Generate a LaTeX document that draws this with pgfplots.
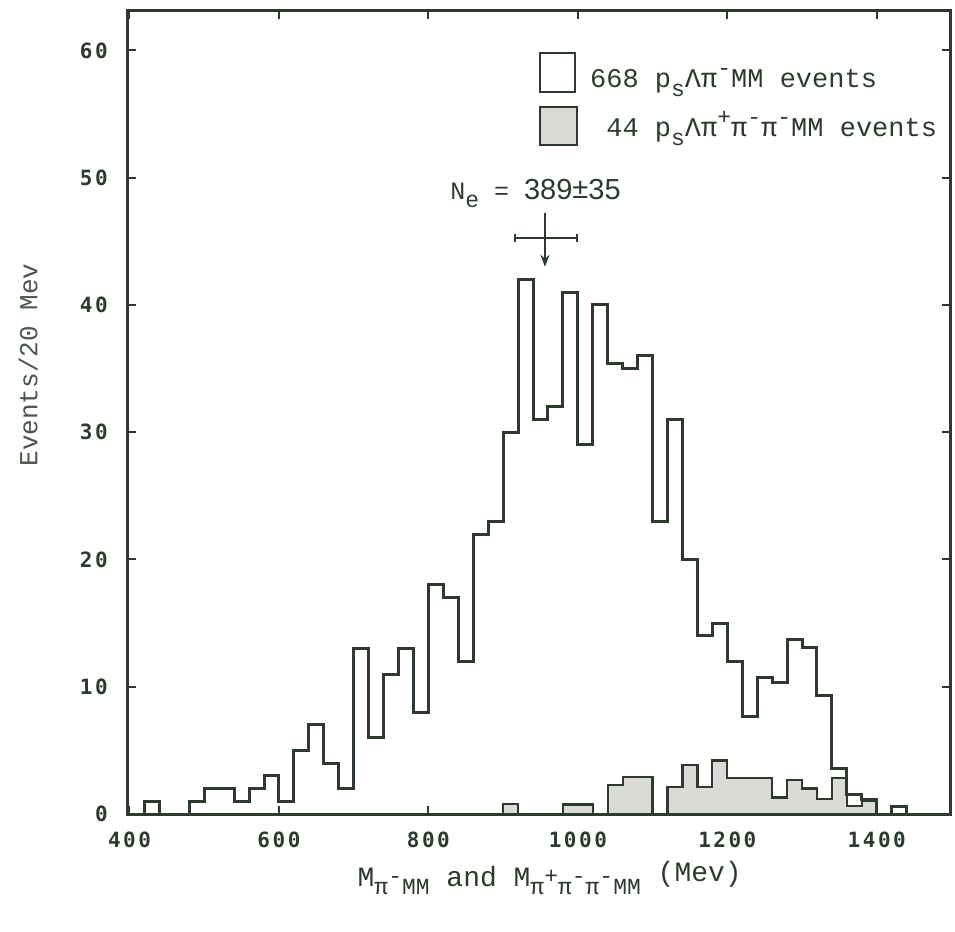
\documentclass[border=0pt]{standalone}
\usepackage{fontspec}
\setmainfont{Liberation Mono}
\newfontfamily\tickfont[LetterSpace=12]{DejaVu Sans Mono}
\newfontfamily\numfont{Liberation Sans}
\usepackage{pgfplots}
\pgfplotsset{compat=1.18}
\usetikzlibrary{arrows.meta}
\definecolor{ink}{RGB}{45,58,45}
\definecolor{shade}{RGB}{218,218,214}
\newcommand\lab{\fontsize{27}{30}\selectfont}
\newcommand\sub[1]{\raisebox{-0.6ex}{\fontsize{23}{26}\selectfont #1}}
\newcommand\sups[1]{\raisebox{0.9ex}{\fontsize{23}{26}\selectfont #1}}
\newcommand\tfont{\tickfont\bfseries\fontsize{21}{22}\selectfont}

\begin{document}
\begin{tikzpicture}
\useasboundingbox (-128pt,-117pt) rectangle (827pt,814pt);
\begin{axis}[
  at={(0pt,0pt)}, anchor=south west,
  scale only axis, width=822pt, height=803pt,
  xmin=398, xmax=1498, ymin=0, ymax=63.1,
  xtick={400,600,800,1000,1200,1400},
  xticklabels={400,600,800,1000,1200,1400},
  ytick={0,10,20,30,40,50,60},
  yticklabels={0,10,20,30,40,50,60},
  tick align=inside, major tick length=8pt,
  axis line style={ink, line width=3pt},
  tick style={ink, line width=2pt},
  xticklabel style={font=\tfont, text=ink, inner sep=0pt, anchor=north, yshift=-18pt},
  yticklabel style={font=\tfont, text=ink, inner sep=0pt, anchor=east, xshift=-20pt},
  clip=false,
]
% shaded: 44 events
\addplot[const plot, fill=shade, draw=ink, line width=2.2pt] coordinates {
(900,0.8) (920,0) (940,0) (960,0) (980,0.75) (1000,0.75) (1020,0)
(1040,2.3) (1060,2.9) (1080,2.9) (1100,0) (1120,2.1) (1140,3.85) (1160,2.1)
(1180,4.2) (1200,2.85) (1220,2.8) (1240,2.8) (1260,1.3) (1280,2.7) (1300,2.0)
(1320,1.2) (1340,2.8) (1360,0.6) (1380,1.0) (1400,0)
} \closedcycle;
% outer: 668 events (stacked total)
\addplot[const plot, ink, line width=3pt] coordinates {
(400,0) (420,1) (440,0) (460,0) (480,1) (500,2) (520,2) (540,1) (560,2) (580,3)
(600,1) (620,5) (640,7) (660,4) (680,2) (700,13) (720,6) (740,11) (760,13) (780,8)
(800,18) (820,17) (840,12) (860,22) (880,23) (900,30) (920,42) (940,31) (960,32) (980,41)
(1000,29) (1020,40) (1040,35.4) (1060,35) (1080,36) (1100,23) (1120,31) (1140,20) (1160,14) (1180,15)
(1200,12) (1220,7.7) (1240,10.7) (1260,10.3) (1280,13.7) (1300,13.1) (1320,9.3) (1340,3.6) (1360,1.5) (1380,1.15)
(1400,0) (1420,0.6) (1440,0) (1498,0)
};
% N_e marker with horizontal error bar and arrow
\addplot[ink, line width=2pt, mark=|, mark size=4pt, mark options={line width=2pt}] coordinates {(916,45.3) (999,45.3)};
\addplot[ink, line width=2pt, -{Stealth[length=12pt,width=9pt]}] coordinates {(956,47.2) (956,43.0)};
% annotations
\node[anchor=base west, inner sep=0pt, text=ink, font=\fontsize{25}{28}\selectfont] at (axis cs:829,48.25)
  {N\sub{e} = {\numfont\fontsize{29}{30}\selectfont 389\raisebox{0.1ex}{±}35}};
% legend
\draw[ink, line width=2.5pt, fill=white] (axis cs:949.3,56.73) rectangle (axis cs:996.2,59.8);
\draw[ink, line width=2.5pt, fill=shade] (axis cs:949.3,52.57) rectangle (axis cs:999,55.56);
\node[anchor=base west, inner sep=0pt, text=ink, font=\lab] at (axis cs:1016.2,57.05)
  {668 p\sub{s}Λπ\sups{-}MM events};
\node[anchor=base west, inner sep=0pt, text=ink, font=\lab] at (axis cs:1016.2,53.2)
  {\phantom{6}44 p\sub{s}Λπ\sups{+}π\sups{-}π\sups{-}MM events};
% axis labels
\node[anchor=base, inner sep=0pt, text=ink, font=\fontsize{28}{32}\selectfont] at (rel axis cs:0.513,-0.0897)
  {M\sub{π\sups{-}MM} and M\sub{π\sups{+}π\sups{-}π\sups{-}MM} \raisebox{0.3ex}{(Mev)}};
\node[rotate=90, inner sep=0pt, text=ink!85, font=\fontsize{26}{30}\selectfont] at (rel axis cs:-0.1217,0.559) {Events/20 Mev};
\end{axis}
\end{tikzpicture}
\end{document}
